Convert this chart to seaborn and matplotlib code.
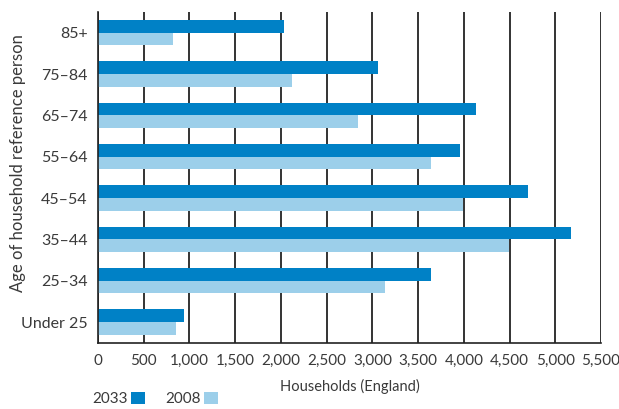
import matplotlib
matplotlib.use("Agg")
import matplotlib.pyplot as plt
import seaborn as sns
import pandas as pd
from matplotlib.patches import Patch

categories = ["85+", "75–84", "65–74", "55–64", "45–54", "35–44", "25–34", "Under 25"]
values_2033 = [2035, 3060, 4130, 3960, 4700, 5170, 3640, 945]
values_2008 = [815, 2120, 2845, 3640, 3995, 4490, 3140, 855]
years = ["2033", "2008"]
xticks = list(range(0, 5501, 500))
xtick_labels = ["0", "500", "1,000", "1,500", "2,000", "2,500", "3,000", "3,500",
                "4,000", "4,500", "5,000", "5,500"]

df = pd.DataFrame({
    "age": categories * 2,
    "year": ["2033"] * len(categories) + ["2008"] * len(categories),
    "households": values_2033 + values_2008,
})

sns.set_theme(style="white")
plt.rcParams["font.family"] = ["Lato", "DejaVu Sans"]
text_color = "#3a3a3a"
colors = {"2033": "#0081c6", "2008": "#9ccfea"}

fig = plt.figure(figsize=(6.19, 4.09), dpi=100)
ax_bottom_px, ax_top_px, ax_left_px, ax_right_px = 342.7, 12, 98, 601
ax = fig.add_axes([ax_left_px / 619, 1 - ax_bottom_px / 409,
                   (ax_right_px - ax_left_px) / 619, (ax_bottom_px - ax_top_px) / 409])

sns.barplot(data=df, x="households", y="age", hue="year", order=categories,
            hue_order=years, palette=colors, orient="h", width=0.61,
            gap=0, saturation=1, linewidth=0, ax=ax, legend=False)

ax.set_xlim(0, 5500)
ax.set_ylim(len(categories) - 0.5, -0.5)
ax.set_xticks(xticks)
ax.set_xticklabels(xtick_labels)
ax.xaxis.grid(True, color="#111111", linewidth=1.2)
ax.yaxis.grid(False)
ax.set_axisbelow(True)

for s in ["top", "right"]:
    ax.spines[s].set_visible(False)
for s in ["left", "bottom"]:
    ax.spines[s].set_color("#222222")
    ax.spines[s].set_linewidth(1.2)

ax.set_yticks(range(len(categories)))
ax.set_yticks([i - 0.5 for i in range(len(categories) + 1)], minor=True)
ax.tick_params(axis="y", which="major", length=0, pad=7.5, labelsize=11.5, labelcolor=text_color)
ax.tick_params(axis="y", which="minor", length=5, width=1.2, color="#222222", direction="out")
ax.tick_params(axis="x", which="major", length=5, width=1.2, color="#222222",
               direction="out", labelsize=11, labelcolor=text_color, pad=3)

ax.set_xlabel("Households (England)", fontsize=10.5, color=text_color, labelpad=8)
ax.set_ylabel("Age of household reference person", fontsize=12, color=text_color)
ax.yaxis.set_label_coords((18 - ax_left_px) / (ax_right_px - ax_left_px),
                          (ax_bottom_px - 163) / (ax_bottom_px - ax_top_px))
ax.yaxis.label.set_verticalalignment("center")

handles = [Patch(facecolor=colors[y], edgecolor="none") for y in years]
fig.legend(handles, years, loc="center left", bbox_to_anchor=(92 / 619, 1 - 399 / 409),
           ncol=2, frameon=False, markerfirst=False, handlelength=0.9, handleheight=0.9,
           handletextpad=0.25, columnspacing=1.3, fontsize=11, labelcolor=text_color,
           borderaxespad=0, borderpad=0)

fig.savefig("out.png", dpi=100)
